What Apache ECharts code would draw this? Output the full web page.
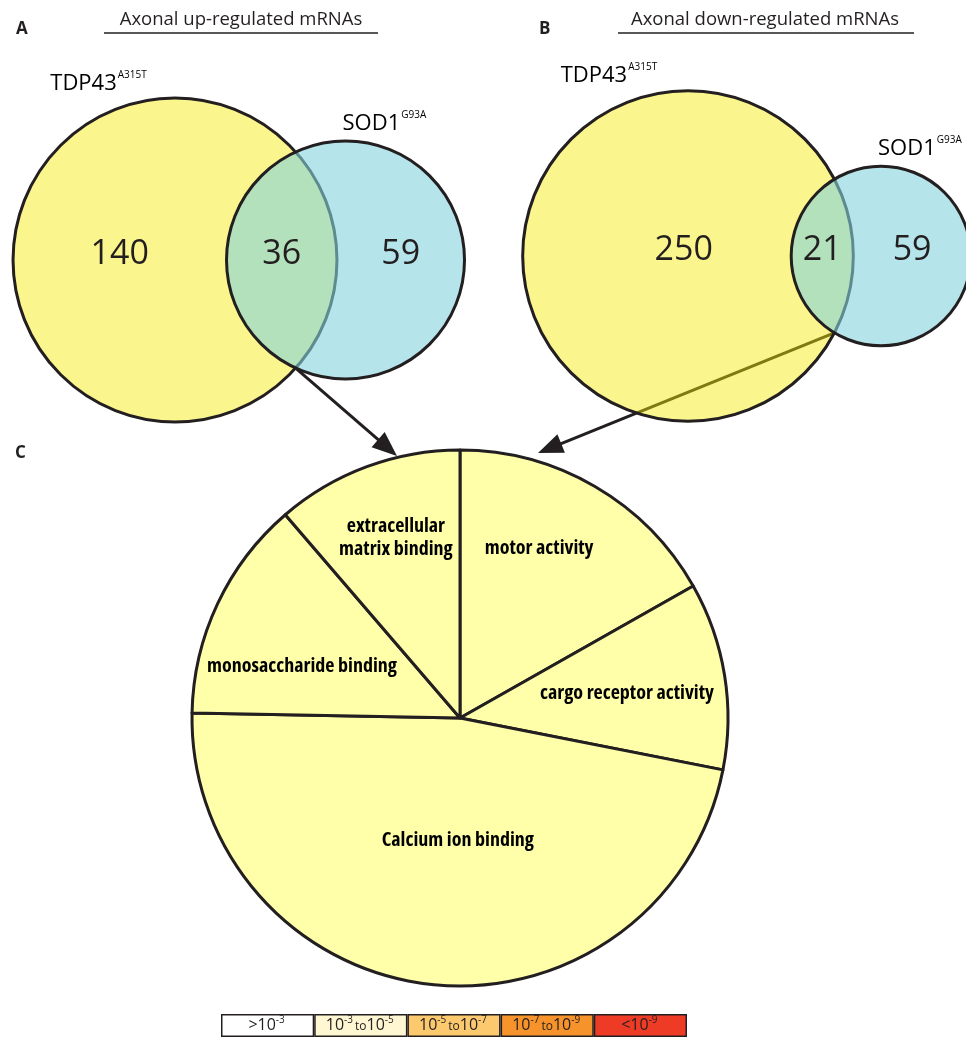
<!DOCTYPE html>
<html><head><meta charset="utf-8">
<script src="https://cdn.jsdelivr.net/npm/echarts@6/dist/echarts.min.js"></script>
<style>html,body{margin:0;padding:0;background:#fff;}#c{width:966px;height:1038px;}</style>
</head><body><div id="c"></div>
<script>
// ---------------- data ----------------
const setNames = ['TDP43', 'SOD1'];
const setMutations = ['A315T', 'G93A'];
const panelTitles = ['Axonal up-regulated mRNAs', 'Axonal down-regulated mRNAs'];
const panelLetters = ['A', 'B', 'C'];
const upCounts = [140, 36, 59];     // TDP43 only, shared, SOD1 only
const downCounts = [250, 21, 59];   // TDP43 only, shared, SOD1 only
const goTerms = ['motor activity', 'cargo receptor activity', 'Calcium ion binding', 'monosaccharide binding', 'extracellular matrix binding'];
const goShare = [16.8, 11.3, 47.2, 13.4, 11.3];   // % of pie
const pBinPrefix = ['>', '', '', '', '<'];
const pBinExponents = [['-3'], ['-3', '-5'], ['-5', '-7'], ['-7', '-9'], ['-9']];
const pBinLevels = [1, 1, 1, 1, 1];

// ---------------- layout / style ----------------
const INK = '#231F20';
const FONT = '"Open Sans", "Noto Sans", sans-serif';
const CFONT = '"Open Sans", "Noto Sans", sans-serif';
const vennLayout = [
  {cx: 175, cy: 260, scale: 21.64, xmin: -8, xmax: 14, ymin: -8, ymax: 8, leftFrac: 0.5, tip: [397, 456]},
  {cx: 688, cy: 256, scale: 17.8, xmin: -10, xmax: 15, ymin: -10, ymax: 10, leftFrac: 0.6, tip: [538, 453]}
];
const pieLayout = {cx: 460, cy: 718, r: 268};
const pieLabelRadius = [0.70, 0.63, 0.455, 0.62, 0.715];
const pieLabelShift = [5.3, -0.6, 5.1, 7.2, -0.8];
const pieLabelBreakAt = [0, 0, 0, 0, 1];   // break label after n-th word
const pBinColors = ['#FFFFFF', '#FEF7D2', '#FCC96E', '#F6932A', '#EE3B26'];

// ---------------- venn geometry ----------------
function lensArea(r1, r2, d) {
  if (d >= r1 + r2) return 0;
  if (d <= Math.abs(r1 - r2)) return Math.PI * Math.min(r1, r2) ** 2;
  const a1 = Math.acos((d * d + r1 * r1 - r2 * r2) / (2 * d * r1));
  const a2 = Math.acos((d * d + r2 * r2 - r1 * r1) / (2 * d * r2));
  const k = Math.sqrt((-d + r1 + r2) * (d + r1 - r2) * (d - r1 + r2) * (d + r1 + r2));
  return r1 * r1 * a1 + r2 * r2 * a2 - 0.5 * k;
}
function solveDistance(r1, r2, target) {
  let lo = Math.abs(r1 - r2), hi = r1 + r2;
  for (let i = 0; i < 80; i++) {
    const mid = (lo + hi) / 2;
    if (lensArea(r1, r2, mid) > target) lo = mid; else hi = mid;
  }
  return (lo + hi) / 2;
}

function vennRender(p) {
  const lay = vennLayout[p];
  return function (params, api) {
    const a = api.value(0), s = api.value(1), b = api.value(2);
    const r1 = Math.sqrt((a + s) / Math.PI), r2 = Math.sqrt((b + s) / Math.PI);
    const d = solveDistance(r1, r2, s);
    const c1 = api.coord([0, 0]), c2 = api.coord([d, 0]);
    const R1 = api.size([r1, 0])[0], R2 = api.size([r2, 0])[0];
    const xi = (d * d + r1 * r1 - r2 * r2) / (2 * d);
    const hi = Math.sqrt(Math.max(0, r1 * r1 - xi * xi));
    const ip = api.coord([xi, -hi]);
    const tip = lay.tip;
    const ang = Math.atan2(tip[1] - ip[1], tip[0] - ip[0]);
    const hl = 25, hw = 10;
    const bx = tip[0] - hl * Math.cos(ang), by = tip[1] - hl * Math.sin(ang);
    const px = -Math.sin(ang) * hw, py = Math.cos(ang) * hw;
    const leftX = api.coord([-r1 + lay.leftFrac * ((d - r2) + r1), 0])[0];
    const lensX = api.coord([((d - r2) + r1) / 2, 0])[0];
    const rightX = api.coord([(r1 + d + r2) / 2, 0])[0];
    const ny = c1[1] - 6;
    const numStyle = (t, x) => ({type: 'text', style: {text: String(t), x: x, y: ny, font: '400 34px ' + FONT, fill: INK, align: 'center', verticalAlign: 'middle'}});
    const setLabel = (i, x, y) => ({type: 'text', style: {
      text: '{m|' + setNames[i] + '}{s|' + setMutations[i] + '}', x: x, y: y, align: 'left', verticalAlign: 'middle',
      rich: {m: {fontFamily: FONT, fontSize: 22, lineHeight: 26, color: INK, verticalAlign: 'bottom'},
             s: {fontFamily: FONT, fontSize: 10, lineHeight: 12, color: INK, verticalAlign: 'top', padding: [1, 0, 0, 1]}}}});
    return {type: 'group', children: [
      {type: 'line', shape: {x1: ip[0], y1: ip[1], x2: bx + 2 * Math.cos(ang), y2: by + 2 * Math.sin(ang)}, style: {stroke: INK, lineWidth: 3}},
      {type: 'polygon', shape: {points: [[tip[0], tip[1]], [bx + px, by + py], [bx - px, by - py]]}, style: {fill: INK}},
      {type: 'circle', shape: {cx: c1[0], cy: c1[1], r: R1}, style: {fill: 'rgba(244,233,0,0.45)', stroke: INK, lineWidth: 3}},
      {type: 'circle', shape: {cx: c2[0], cy: c2[1], r: R2}, style: {fill: 'rgba(132,212,220,0.6)', stroke: INK, lineWidth: 3}},
      numStyle(a, leftX), numStyle(s, lensX), numStyle(b, rightX),
      setLabel(0, c1[0] - 0.77 * R1, c1[1] - 1.1 * R1),
      setLabel(1, c2[0] - 3, c2[1] - R2 - 19)
    ]};
  };
}

// ---------------- option ----------------
const grids = [], xAxes = [], yAxes = [], series = [];
[upCounts, downCounts].forEach((counts, p) => {
  const L = vennLayout[p];
  grids.push({left: L.cx + L.xmin * L.scale, top: L.cy - L.ymax * L.scale,
              width: (L.xmax - L.xmin) * L.scale, height: (L.ymax - L.ymin) * L.scale, containLabel: false});
  xAxes.push({type: 'value', gridIndex: p, min: L.xmin, max: L.xmax, show: false});
  yAxes.push({type: 'value', gridIndex: p, min: L.ymin, max: L.ymax, show: false});
  series.push({type: 'custom', xAxisIndex: p, yAxisIndex: p, renderItem: vennRender(p), data: [counts], silent: true, clip: false});
});

// legend (p-value bins)
grids.push({left: 221, top: 1014, width: 466, height: 23});
xAxes.push({type: 'category', gridIndex: 2, data: pBinPrefix.map((_, i) => 'bin' + i), show: false});
yAxes.push({type: 'value', gridIndex: 2, min: 0, max: 1, show: false});
series.push({
  type: 'bar', xAxisIndex: 2, yAxisIndex: 2, barWidth: '100%', silent: true,
  data: pBinLevels.map((v, i) => ({value: v, itemStyle: {color: pBinColors[i]}})),
  itemStyle: {borderColor: INK, borderWidth: 1.5},
  label: {
    show: true, position: 'inside',
    formatter: (pr) => {
      const i = pr.dataIndex, e = pBinExponents[i];
      let t = pBinPrefix[i] ? '{m|' + pBinPrefix[i] + '10}{s|' + e[0] + '}' : '{m|10}{s|' + e[0] + '}';
      if (e.length > 1) t += '{t|to}{m|10}{s|' + e[1] + '}';
      return t;
    },
    rich: {
      m: {fontFamily: FONT, fontSize: 16, lineHeight: 20, color: INK, verticalAlign: 'middle'},
      s: {fontFamily: FONT, fontSize: 10, lineHeight: 11, color: INK, verticalAlign: 'top', padding: [0, 2, 0, 0]},
      t: {fontFamily: FONT, fontSize: 12, lineHeight: 20, color: INK, verticalAlign: 'middle', padding: [2, 0, 0, 0]}
    }
  }
});

// GO pie
const goTotal = goShare.reduce((x, y) => x + y, 0);
const goMid = [];
{ let acc = 0; goShare.forEach(v => { goMid.push(90 - (acc + v / 2) / goTotal * 360); acc += v; }); }
series.push({
  type: 'pie', center: [pieLayout.cx, pieLayout.cy], radius: [0, pieLayout.r], startAngle: 90, clockwise: true,
  silent: true, avoidLabelOverlap: false,
  data: goTerms.map((n, i) => ({name: n, value: goShare[i]})),
  itemStyle: {color: '#FFFFAA', borderColor: INK, borderWidth: 3},
  label: {show: true, position: 'inside', color: '#000', fontFamily: CFONT, fontWeight: 'bold condensed',
          fontSize: 20, lineHeight: 23, align: 'center',
          formatter: (pr) => {
            const k = pieLabelBreakAt[pr.dataIndex];
            if (!k) return pr.name;
            const w = pr.name.split(' ');
            return w.slice(0, k).join(' ') + '\n' + w.slice(k).join(' ');
          }},
  labelLine: {show: false},
  labelLayout: (pr) => {
    const i = pr.dataIndex;
    const a = (goMid[i] + pieLabelShift[i]) * Math.PI / 180;
    const rr = pieLayout.r * pieLabelRadius[i];
    return {x: pieLayout.cx + rr * Math.cos(a), y: pieLayout.cy - rr * Math.sin(a), align: 'center', verticalAlign: 'middle'};
  }
});

const graphic = [
  {type: 'text', left: 16, top: 21, style: {text: panelLetters[0], font: 'bold 17px ' + FONT, fill: INK}},
  {type: 'text', left: 539, top: 21, style: {text: panelLetters[1], font: 'bold 17px ' + FONT, fill: INK}},
  {type: 'text', left: 15, top: 445, style: {text: panelLetters[2], font: 'bold 17px ' + FONT, fill: INK}},
  {type: 'text', x: 241, y: 20, style: {text: panelTitles[0], font: '18.5px ' + FONT, fill: INK, align: 'center', verticalAlign: 'middle'}},
  {type: 'text', x: 765, y: 20, style: {text: panelTitles[1], font: '18.5px ' + FONT, fill: INK, align: 'center', verticalAlign: 'middle'}},
  {type: 'line', shape: {x1: 104, y1: 33, x2: 378, y2: 33}, style: {stroke: INK, lineWidth: 1.5}},
  {type: 'line', shape: {x1: 618, y1: 33, x2: 914, y2: 33}, style: {stroke: INK, lineWidth: 1.5}}
];

const chart = echarts.init(document.getElementById('c'), null, {renderer: 'canvas'});
chart.setOption({
  backgroundColor: '#ffffff', animation: false,
  grid: grids, xAxis: xAxes, yAxis: yAxes, series: series, graphic: graphic
});
</script></body></html>
